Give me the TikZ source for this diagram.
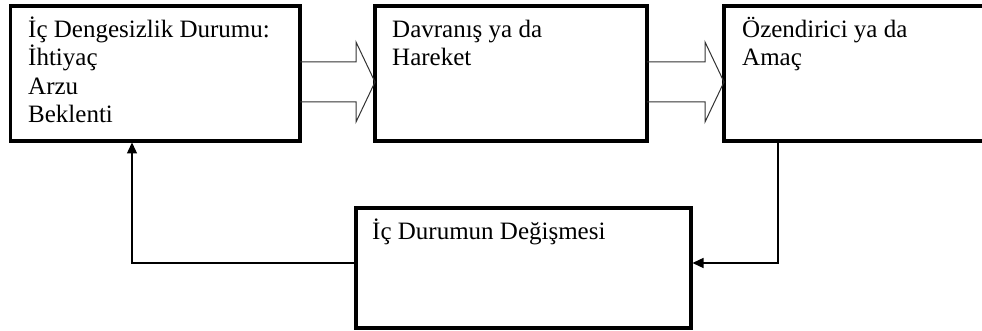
\documentclass[tikz,border=0pt]{standalone}
\usepackage{fontspec}
\setmainfont{Liberation Serif}
\usetikzlibrary{calc,arrows.meta}
\begin{document}
\begin{tikzpicture}[x=1pt,y=-1pt,
  box/.style={draw=black, line width=3.5pt, outer sep=0pt, inner sep=0pt, anchor=north west},
  txt/.style={anchor=base west, inner sep=0pt, font=\fontsize{25}{28.5}\selectfont, text=black},
  conn/.style={draw=black, line width=1.4pt, shorten >=1.5pt, -{Triangle[length=11pt,width=10pt]}},
  blockarrow/.style={draw=black!80, line width=1pt, line join=miter}]
\useasboundingbox (0,0) rectangle (982,331);
% boxes
\node[box, minimum width=289.5pt, minimum height=135pt] (b1) at (10.5,6) {};
\node[box, minimum width=272pt, minimum height=135pt] (b2) at (375,6) {};
\node[box, minimum width=266pt, minimum height=135pt] (b3) at (724,6) {};
\node[box, minimum width=335pt, minimum height=120pt] (b4) at (356,208) {};
% texts
\node[txt] (t1a) at ($(b1.north west)+(17.5,31.5)$) {İç Dengesizlik Durumu:};
\node[txt] (t1b) at ($(t1a.base west)+(0,28.5)$) {İhtiyaç};
\node[txt] (t1c) at ($(t1b.base west)+(0,28.5)$) {Arzu};
\node[txt] (t1d) at ($(t1c.base west)+(0,28.5)$) {Beklenti};
\node[txt] (t2a) at ($(b2.north west)+(17,31.5)$) {Davranış ya da};
\node[txt] (t2b) at ($(t2a.base west)+(0,28)$) {Hareket};
\node[txt] (t3a) at ($(b3.north west)+(18,31.5)$) {Özendirici ya da};
\node[txt] (t3b) at ($(t3a.base west)+(0,28)$) {Amaç};
\node[txt] (t4a) at ($(b4.north west)+(16,32)$) {İç Durumun Değişmesi};
% block arrows
\coordinate (a1) at ($(b1.east)+(0,8.5)$);
\coordinate (h1) at (b2.west |- a1);
\draw[blockarrow] ($(a1)+(0,-20)$) -- ($(h1)+(-19,-20)$) -- ($(h1)+(-19,-40)$) -- (h1)
  -- ($(h1)+(-19,40)$) -- ($(h1)+(-19,20)$) -- ($(a1)+(0,20)$);
\coordinate (a2) at ($(b2.east)+(0,8.5)$);
\coordinate (h2) at (b3.west |- a2);
\draw[blockarrow] ($(a2)+(0,-20)$) -- ($(h2)+(-19,-20)$) -- ($(h2)+(-19,-40)$) -- (h2)
  -- ($(h2)+(-19,40)$) -- ($(h2)+(-19,20)$) -- ($(a2)+(0,20)$);
% feedback connectors
\coordinate (c1) at ($(b3.south west)+(54,0)$);
\coordinate (c2) at ($(b4.east)+(0,-5)$);
\draw[conn] (c1) |- (c2);
\coordinate (c3) at ($(b4.west)+(0,-5)$);
\coordinate (c4) at ($(b1.south west)+(121.5,0)$);
\draw[conn] (c3) -| (c4);
\end{tikzpicture}
\end{document}
